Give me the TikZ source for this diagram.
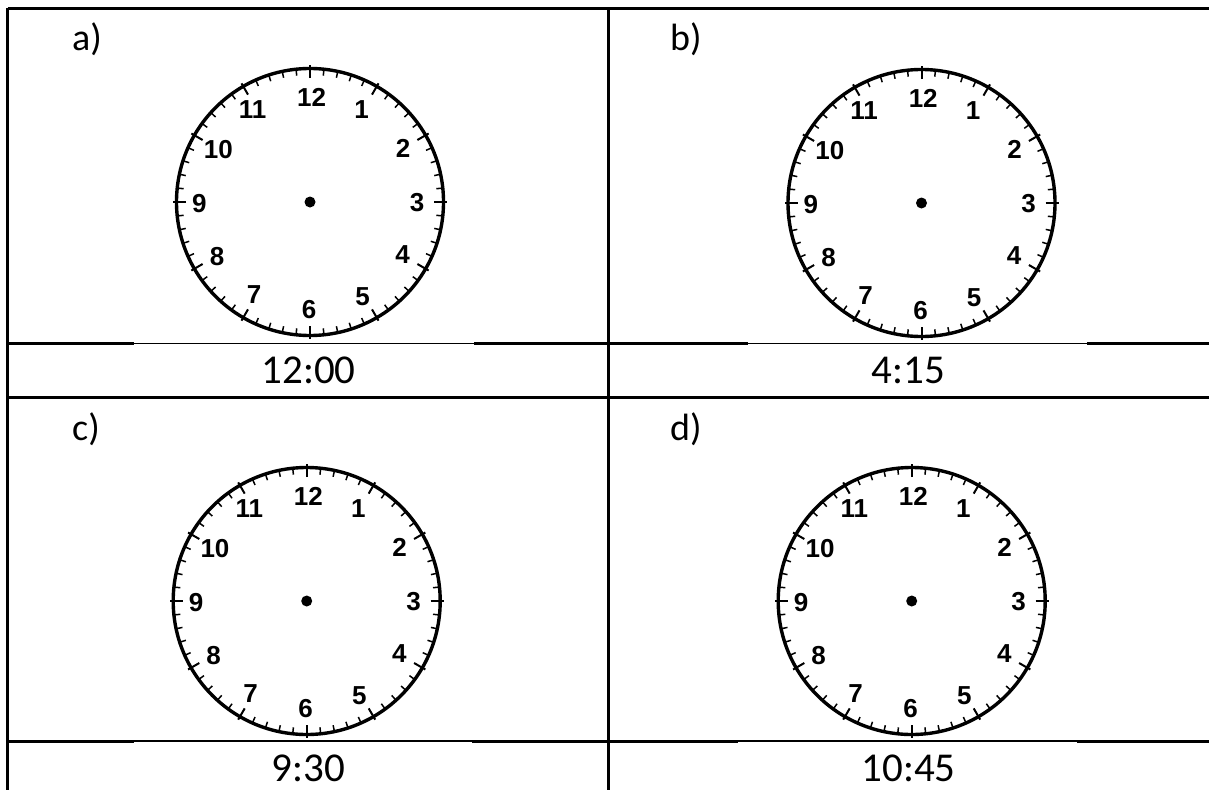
\documentclass[tikz,border=0pt]{standalone}
\usepackage{fontspec}
\setmainfont{Carlito}
\newfontfamily\clockfont{Liberation Sans Bold}
\tikzset{
  rule/.style={line width=3pt},
  thinrule/.style={line width=1.5pt},
  rim/.style={circle, draw, line width=3.4pt, minimum size=267pt, inner sep=0pt},
  minortick/.style={line width=1.5pt},
  majortick/.style={line width=2pt},
  clocknum/.style={font=\clockfont\fontsize{26}{26}\selectfont, inner sep=0pt},
  hub/.style={circle, fill, minimum size=11pt, inner sep=0pt},
  cellabel/.style={font=\fontsize{38}{38}\selectfont, inner sep=0pt, anchor=base west},
  timelab/.style={font=\fontsize{41}{41}\selectfont, inner sep=0pt}
}
\newcommand\clockface[3]{%
  \begin{scope}[shift={(#1,#2)}]
    \node[rim] (#3) at (0,0) {};
    \foreach \m in {0,...,59} {
      \pgfmathtruncatemacro\rr{mod(\m,5)}
      \ifnum\rr=0
        \draw[majortick] ({90-6*\m}:124) -- ({90-6*\m}:137);
      \else
        \draw[minortick] ({90-6*\m}:127) -- ({90-6*\m}:133.5);
      \fi
    }
    \node[hub] (#3-hub) at (0,0) {};
    \node[clocknum] (#3-n12) at (1.7,-105) {12};
    \node[clocknum] (#3-n1) at (51.7,-92) {1};
    \node[clocknum] (#3-n2) at (93,-54) {2};
    \node[clocknum] (#3-n3) at (107,1) {3};
    \node[clocknum] (#3-n4) at (92.7,53) {4};
    \node[clocknum] (#3-n5) at (52.7,94.7) {5};
    \node[clocknum] (#3-n6) at (-1,108) {6};
    \node[clocknum] (#3-n7) at (-56,93) {7};
    \node[clocknum] (#3-n8) at (-93,55) {8};
    \node[clocknum] (#3-n9) at (-110.7,1.3) {9};
    \node[clocknum] (#3-n10) at (-91.7,-52) {10};
    \node[clocknum] (#3-n11) at (-57.3,-92) {11};
  \end{scope}%
}
\begin{document}
\begin{tikzpicture}[x=1pt,y=-1pt]
  \useasboundingbox (0,0) rectangle (1209,790);
  \fill[white] (0,0) rectangle (1209,790);
  % table frame
  \draw[rule] (7.5,8) -- (1209,8);
  \draw[rule] (7.5,8) -- (7.5,790);
  \draw[rule] (608,8) -- (608,790);
  \draw[rule] (7.5,397) -- (1209,397);
  % lines under the clocks (thinner where the clock pictures lie)
  \draw[rule] (7.5,343.5) -- (134,343.5);
  \draw[thinrule] (134,343.5) -- (474,343.5);
  \draw[rule] (474,343.5) -- (748,343.5);
  \draw[thinrule] (748,343.5) -- (1087,343.5);
  \draw[rule] (1087,343.5) -- (1209,343.5);
  \draw[rule] (7.5,741) -- (134,741);
  \draw[thinrule] (134,741) -- (472,741);
  \draw[rule] (472,741) -- (738,741);
  \draw[thinrule] (738,741) -- (1077,741);
  \draw[rule] (1077,741) -- (1209,741);
  % clocks
  \clockface{310}{202}{ca}
  \clockface{921.5}{203}{cb}
  \clockface{306.7}{601}{cc}
  \clockface{911.7}{601}{cd}
  % labels
  \node[cellabel] (la) at (72,50) {a)};
  \node[cellabel] (lb) at (670,50) {b)};
  \node[cellabel] (lc) at (72,440) {c)};
  \node[cellabel] (ld) at (670,440) {d)};
  % times
  \node[timelab] (ta) at (308.5,370) {12:00};
  \node[timelab] (tb) at (908.5,370) {4:15};
  \node[timelab] (tc) at (308.5,768) {9:30};
  \node[timelab] (td) at (908.5,768) {10:45};
\end{tikzpicture}
\end{document}
